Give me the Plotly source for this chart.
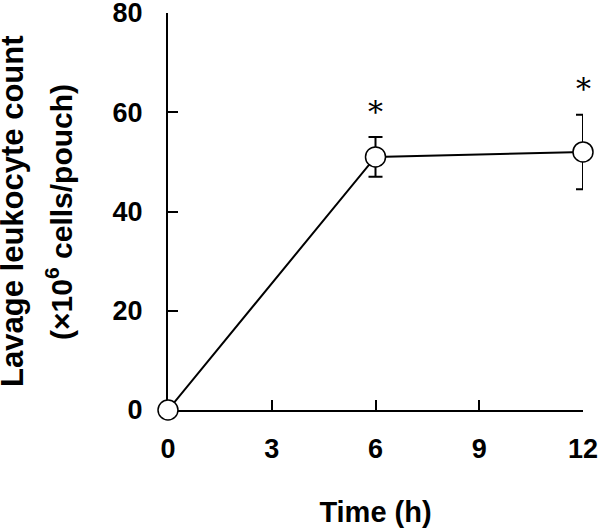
import plotly.graph_objects as go

time_h = [0, 6, 12]
leukocytes = [0, 51, 52]
sem = [0, 4, 7.5]
significant = [False, True, True]
x_ticks = [0, 3, 6, 9, 12]
y_ticks = [0, 20, 40, 60, 80]

FONT = "Liberation Sans, Arial, sans-serif"

fig = go.Figure()
fig.add_trace(go.Scatter(
    x=time_h, y=leukocytes,
    mode="lines+markers",
    line=dict(color="black", width=2),
    marker=dict(symbol="circle", size=20, color="white",
                line=dict(color="black", width=1.5)),
    error_y=dict(type="data", array=sem, visible=True,
                 color="black", thickness=2, width=7),
    cliponaxis=False,
    showlegend=False,
))

for x, y, e, s in zip(time_h, leukocytes, sem, significant):
    if s:
        fig.add_annotation(x=x, y=y + e, text="*", showarrow=False,
                           yshift=26, yanchor="middle",
                           font=dict(family="DejaVu Serif, serif", size=30, color="black"))

fig.update_layout(
    width=600, height=530,
    margin=dict(l=168, r=17, t=13, b=120, autoexpand=False),
    paper_bgcolor="white", plot_bgcolor="white",
    font=dict(family=FONT, color="black"),
)
fig.update_xaxes(
    range=[0, 12], tickvals=x_ticks, ticktext=[f"<b>{v}</b>" for v in x_ticks],
    showline=True, linecolor="black", linewidth=2, showgrid=False, zeroline=False,
    ticks="inside", ticklen=10, tickwidth=2, tickcolor="black",
    tickfont=dict(size=27, family=FONT), layer="below traces",
    ticklabelstandoff=14, ticklabeloverflow="allow", automargin=False,
    title=dict(text="<b>Time (h)</b>", font=dict(size=29, family=FONT), standoff=38),
)
fig.update_yaxes(
    range=[0, 80], tickvals=y_ticks, ticktext=[f"<b>{v}</b>" for v in y_ticks],
    showline=True, linecolor="black", linewidth=2, showgrid=False, zeroline=False,
    ticks="inside", ticklen=10, tickwidth=2, tickcolor="black",
    tickfont=dict(size=27, family=FONT), layer="below traces",
    ticklabelstandoff=18, ticklabeloverflow="allow", automargin=False,
)

fig.add_annotation(xref="paper", yref="paper", x=(13 - 168) / 415, y=0.499,
                   xanchor="center", yanchor="middle", textangle=-90, showarrow=False,
                   text="<b>Lavage leukocyte count</b>",
                   font=dict(size=31, family=FONT, color="black"))
fig.add_annotation(xref="paper", yref="paper", x=(59 - 168) / 415, y=0.499,
                   xanchor="center", yanchor="middle", textangle=-90, showarrow=False,
                   text="<b>(×10<sup>6</sup> cells/pouch)</b>",
                   font=dict(size=30, family=FONT, color="black"))

fig.write_html("out.html", config={"displayModeBar": False},
               post_script="document.body.style.margin='0';")
